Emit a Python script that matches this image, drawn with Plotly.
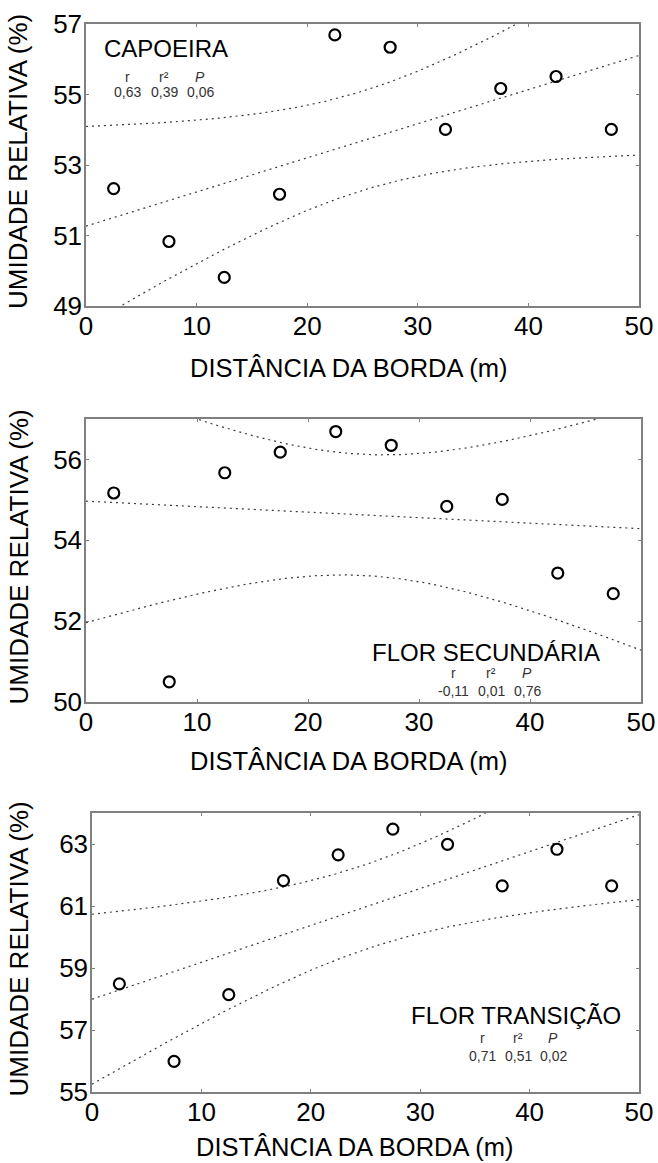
import numpy as np
import plotly.graph_objects as go

# ---------------- data ----------------
distancia = [2.5, 7.5, 12.5, 17.5, 22.5, 27.5, 32.5, 37.5, 42.5, 47.5]
ur_capoeira = [52.33, 50.83, 49.81, 52.17, 56.69, 56.34, 54.01, 55.17, 55.51, 54.01]
ur_secundaria = [55.17, 50.50, 55.67, 56.18, 56.69, 56.35, 54.84, 55.01, 53.19, 52.68]
ur_transicao = [58.49, 55.99, 58.14, 61.82, 62.65, 63.48, 62.99, 61.65, 62.83, 61.65]

panel_names = ["CAPOEIRA", "FLOR SECUNDÁRIA", "FLOR TRANSIÇÃO"]
stat_headers = ["r", "r²", "<i>P</i>"]
stat_values = [["0,63", "0,39", "0,06"],
               ["-0,11", "0,01", "0,76"],
               ["0,71", "0,51", "0,02"]]
x_ticks = [0, 10, 20, 30, 40, 50]
y_ticks = [[49, 51, 53, 55, 57], [50, 52, 54, 56], [55, 57, 59, 61, 63]]
y_ranges = [[49, 57], [50, 57], [55, 64]]
x_title = "DISTÂNCIA DA BORDA (m)"
y_title = "UMIDADE RELATIVA (%)"

T_95 = 2.306  # t(0.975, df=8)

W, H = 658, 1163
FONT = "Liberation Sans, Arial, sans-serif"

# plot boxes in pixels: left, right, top, bottom
boxes = [(86, 639, 24, 306), (86, 641, 419, 702), (92, 639, 813, 1092)]
xtitle_pos = [(348, 368), (348, 761), (354, 1147)]


def px_x(p):
    return p / W


def px_y(p):
    return 1 - p / H


def fit_ci(x, y):
    x = np.asarray(x, float)
    y = np.asarray(y, float)
    n = len(x)
    b, a = np.polyfit(x, y, 1)
    res = y - (a + b * x)
    s = np.sqrt(np.sum(res ** 2) / (n - 2))
    sxx = np.sum((x - x.mean()) ** 2)
    xs = np.linspace(0, 50, 201)
    yh = a + b * xs
    se = s * np.sqrt(1.0 / n + (xs - x.mean()) ** 2 / sxx)
    return xs, yh, yh - T_95 * se, yh + T_95 * se


fig = go.Figure()
series = [ur_capoeira, ur_secundaria, ur_transicao]
annotations = []
layout_axes = {}

for i, ys in enumerate(series):
    k = "" if i == 0 else str(i + 1)
    xa, ya = "x" + k, "y" + k
    xs, yh, lo, hi = fit_ci(distancia, ys)
    for curve in (hi, yh, lo):
        fig.add_trace(go.Scatter(x=xs, y=curve, mode="lines", xaxis=xa, yaxis=ya,
                                 line=dict(color="#3a3a3a", width=1.2, dash="2px,4px"),
                                 showlegend=False, hoverinfo="skip"))
    fig.add_trace(go.Scatter(x=distancia, y=ys, mode="markers", xaxis=xa, yaxis=ya,
                             marker=dict(symbol="circle-open", size=11, color="black",
                                         line=dict(width=2.2, color="black")),
                             showlegend=False))
    l, r, t, b = boxes[i]
    common = dict(showgrid=False, zeroline=False, showline=True, linecolor="#808080",
                  linewidth=1.5, mirror="ticks", ticks="inside", ticklen=3,
                  tickcolor="#808080", automargin=False,
                  tickfont=dict(family=FONT, size=26, color="black"))
    layout_axes["xaxis" + k] = dict(domain=[px_x(l), px_x(r)], anchor=ya, range=[0, 50],
                                    tickvals=x_ticks, ticklabelstandoff=-4, **common)
    layout_axes["yaxis" + k] = dict(domain=[px_y(b), px_y(t)], anchor=xa, range=y_ranges[i],
                                    tickvals=y_ticks[i], ticklabelstandoff=-3, **common)
    # axis titles
    tx, ty = xtitle_pos[i]
    annotations.append(dict(text=x_title, xref="paper", yref="paper",
                            x=px_x(tx), y=px_y(ty), xanchor="center", yanchor="middle",
                            showarrow=False, font=dict(family=FONT, size=25.5, color="black")))
    annotations.append(dict(text=y_title, xref="paper", yref="paper", textangle=-90,
                            x=px_x(18), y=px_y((t + b) / 2 - 3), xanchor="center",
                            yanchor="middle", showarrow=False,
                            font=dict(family=FONT, size=26, color="black")))

# panel labels and statistics
label_pos = [(102, 49, "left"), (602, 652, "right"), (623, 1015, "right")]
stat_cols = [[127, 164, 200], [453, 491, 527], [482, 518, 553]]
stat_rows = [(77, 92), (673, 691), (1038, 1056)]
for i in range(3):
    lx, ly, anc = label_pos[i]
    annotations.append(dict(text=panel_names[i], xref="paper", yref="paper",
                            x=px_x(lx), y=px_y(ly), xanchor=anc, yanchor="middle",
                            showarrow=False, font=dict(family=FONT, size=24, color="black")))
    for j in range(3):
        annotations.append(dict(text=stat_headers[j], xref="paper", yref="paper",
                                x=px_x(stat_cols[i][j]), y=px_y(stat_rows[i][0]),
                                xanchor="center", yanchor="middle", showarrow=False,
                                font=dict(family=FONT, size=14, color="#333333")))
        annotations.append(dict(text=stat_values[i][j], xref="paper", yref="paper",
                                x=px_x(stat_cols[i][j]), y=px_y(stat_rows[i][1]),
                                xanchor="center", yanchor="middle", showarrow=False,
                                font=dict(family=FONT, size=14, color="#333333")))

fig.update_layout(width=W, height=H, margin=dict(l=0, r=0, t=0, b=0),
                  paper_bgcolor="white", plot_bgcolor="white",
                  font=dict(family=FONT), annotations=annotations, **layout_axes)

fig.write_html("out.html", config={"displayModeBar": False},
               post_script="document.body.style.margin='0';document.body.style.overflow='hidden';")
